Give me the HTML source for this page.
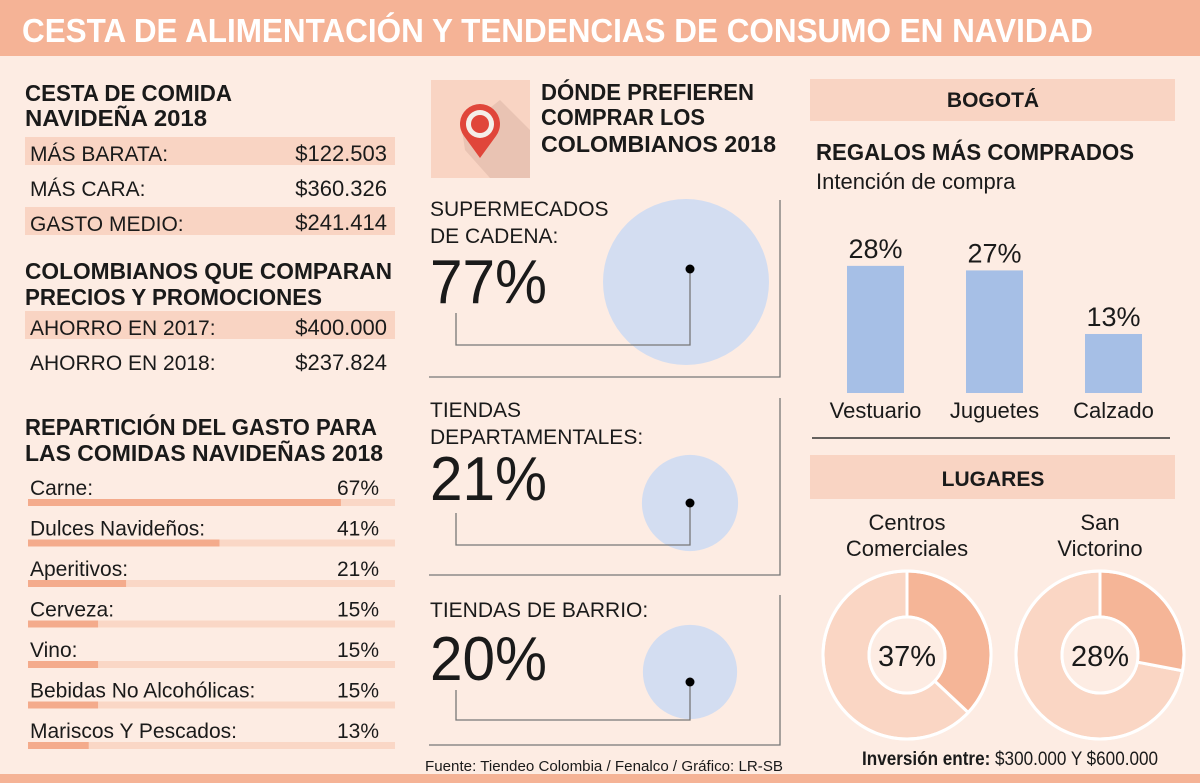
<!DOCTYPE html>
<html><head><meta charset="utf-8">
<style>
html,body{margin:0;padding:0;background:#fdece3;}
svg{display:block;}
text{font-family:"Liberation Sans Narrow","Liberation Sans",sans-serif;fill:#1a1a1a;}
.b{font-weight:bold;}
</style></head>
<body>
<svg id="s" width="1200" height="783" viewBox="0 0 1200 783" xmlns="http://www.w3.org/2000/svg">
<rect x="0" y="0" width="1200" height="783" fill="#fdece3"/>
<rect x="0" y="0" width="1200" height="56" fill="#f5b396"/>
<text x="22" y="42" class="b" font-size="33" style="fill:#fff" textLength="1071" lengthAdjust="spacingAndGlyphs">CESTA DE ALIMENTACIÓN Y TENDENCIAS DE CONSUMO EN NAVIDAD</text>
<rect x="0" y="774" width="1200" height="9" fill="#f5b396"/>

<g>
<text x="25" y="101" class="b" font-size="23" textLength="207" lengthAdjust="spacingAndGlyphs">CESTA DE COMIDA</text>
<text x="25" y="126" class="b" font-size="23" textLength="182" lengthAdjust="spacingAndGlyphs">NAVIDEÑA 2018</text>
<rect x="25" y="137" width="370" height="28" fill="#f9d4c3"/>
<rect x="25" y="207" width="370" height="28" fill="#f9d4c3"/>
<text x="30" y="161" font-size="21">MÁS BARATA:</text><text x="387" y="161" font-size="22" text-anchor="end">$122.503</text>
<text x="30" y="196" font-size="21">MÁS CARA:</text><text x="387" y="196" font-size="22" text-anchor="end">$360.326</text>
<text x="30" y="231" font-size="21">GASTO MEDIO:</text><text x="387" y="230" font-size="22" text-anchor="end">$241.414</text>
</g>
<g>
<text x="25" y="279" class="b" font-size="23" textLength="367" lengthAdjust="spacingAndGlyphs">COLOMBIANOS QUE COMPARAN</text>
<text x="25" y="305" class="b" font-size="23" textLength="297" lengthAdjust="spacingAndGlyphs">PRECIOS Y PROMOCIONES</text>
<rect x="25" y="311" width="370" height="28" fill="#f9d4c3"/>
<text x="30" y="335" font-size="21">AHORRO EN 2017:</text><text x="387" y="335" font-size="22" text-anchor="end">$400.000</text>
<text x="30" y="370" font-size="21">AHORRO EN 2018:</text><text x="387" y="370" font-size="22" text-anchor="end">$237.824</text>
</g>
<text x="25" y="435" class="b" font-size="23" textLength="352" lengthAdjust="spacingAndGlyphs">REPARTICIÓN DEL GASTO PARA</text>
<text x="25" y="461" class="b" font-size="23" textLength="358" lengthAdjust="spacingAndGlyphs">LAS COMIDAS NAVIDEÑAS 2018</text>
<g id="spend"></g>

<rect x="431" y="80" width="99" height="98" fill="#f9d4c3"/>
<g>
<polygon points="462,130 500,100 530,130 530,178 490,178 465,150" fill="#e9c3b3"/>
<path d="M480,158 L464,136 A20,20 0 1 1 496,136 Z" fill="#e0463a"/>
<circle cx="480" cy="124" r="14" fill="#f4efe9"/>
<circle cx="480" cy="124" r="9" fill="#e0463a"/>
</g>
<text x="541" y="100" class="b" font-size="23" textLength="213" lengthAdjust="spacingAndGlyphs">DÓNDE PREFIEREN</text>
<text x="541" y="125" class="b" font-size="23" textLength="164" lengthAdjust="spacingAndGlyphs">COMPRAR LOS</text>
<text x="541" y="152" class="b" font-size="23" textLength="235" lengthAdjust="spacingAndGlyphs">COLOMBIANOS 2018</text>
<g id="where"></g>
<text x="425" y="771" font-size="15" textLength="358" lengthAdjust="spacingAndGlyphs">Fuente: Tiendeo Colombia / Fenalco / Gráfico: LR-SB</text>

<rect x="810" y="79" width="365" height="42" fill="#f9d4c3"/>
<text x="993" y="107" class="b" font-size="21" text-anchor="middle">BOGOTÁ</text>
<text x="816" y="160" class="b" font-size="23" textLength="318" lengthAdjust="spacingAndGlyphs">REGALOS MÁS COMPRADOS</text>
<text x="816" y="189" font-size="22">Intención de compra</text>
<g id="gifts"></g>
<line x1="812" y1="438" x2="1170" y2="438" stroke="#333" stroke-width="1.5"/>
<rect x="810" y="455" width="365" height="44" fill="#f9d4c3"/>
<text x="993" y="486" class="b" font-size="21" text-anchor="middle">LUGARES</text>
<g id="places"></g>
<text x="862" y="765" font-size="19" textLength="296" lengthAdjust="spacingAndGlyphs"><tspan font-weight="bold">Inversión entre:</tspan> $300.000 Y $600.000</text>
</svg>
<script>
const spendCats=["Carne:","Dulces Navideños:","Aperitivos:","Cerveza:","Vino:","Bebidas No Alcohólicas:","Mariscos Y Pescados:"];
const spendVals=[67,41,21,15,15,15,13];
const whereCats=[["SUPERMECADOS","DE CADENA:"],["TIENDAS","DEPARTAMENTALES:"],["TIENDAS DE BARRIO:"]];
const whereVals=[77,21,20];
const giftCats=["Vestuario","Juguetes","Calzado"];
const giftVals=[28,27,13];
const placeCats=[["Centros","Comerciales"],["San","Victorino"]];
const placeVals=[37,28];

const NS="http://www.w3.org/2000/svg";
function mk(tag,attrs,parent,txt){const e=document.createElementNS(NS,tag);for(const k in attrs)e.setAttribute(k,attrs[k]);if(txt!==undefined)e.textContent=txt;parent.appendChild(e);return e;}

const sp=document.getElementById('spend');
const sx=v=>v*4.67;
spendCats.forEach((c,i)=>{
  const y=495+i*40.5;
  const t=mk('text',{x:30,y:y,'font-size':21},sp,c);
  
  
  const p=mk('text',{x:379,y:y,'font-size':21,'text-anchor':'end'},sp,spendVals[i]+'%');
  
  
  const tr=mk('rect',{x:28,y:y+4,width:367,height:7,fill:'#fad7c6'},sp);
  
  
  const b=mk('rect',{x:28,y:y+4,width:sx(spendVals[i]),height:7,fill:'#f4ab8c'},sp);
  
  
});

const wh=document.getElementById('where');
const panels=[{ly:216,py:303,cy:282,dy:269,ly1:313,ly2:345,bT:200,bB:377},
              {ly:417,py:500,cy:503,dy:503,ly1:513,ly2:545,bT:398,bB:575},
              {ly:617,py:680,cy:672,dy:682,ly1:690,ly2:720,bT:595,bB:745}];
const rad=v=>83*Math.pow(v/77,0.42);
whereVals.forEach((v,i)=>{
  const P=panels[i];
  const c=mk('circle',{cx:i==0?686:690,cy:P.cy,r:rad(v),fill:'#d3ddf1'},wh);
  
  
  whereCats[i].forEach((l,j)=>{
    const t=mk('text',{x:430,y:P.ly+j*27,'font-size':21},wh,l);
    
    
  });
  const pt=mk('text',{x:430,y:P.py,'font-size':62,textLength:117,lengthAdjust:'spacingAndGlyphs'},wh,v+'%');
  
  
  const pl=mk('polyline',{points:`456,${P.ly1} 456,${P.ly2} 690,${P.ly2} 690,${P.dy}`,fill:'none',stroke:'#777','stroke-width':1.3},wh);
  
  
  const d=mk('circle',{cx:690,cy:P.dy,r:4.5,fill:'#000'},wh);
  
  
  const br=mk('polyline',{points:`780,${P.bT} 780,${P.bB} 429,${P.bB}`,fill:'none',stroke:'#777','stroke-width':1.3},wh);
  
  
});

const gf=document.getElementById('gifts');
const gBase=393, gy=v=>gBase-v*4.54;
giftCats.forEach((c,i)=>{
  const x=847+i*119;
  const r=mk('rect',{x:x,y:gy(giftVals[i]),width:57,height:gBase-gy(giftVals[i]),fill:'#a6bfe6'},gf);
  
  
  const t=mk('text',{x:x+28.5,y:gy(giftVals[i])-8,'font-size':27,'text-anchor':'middle'},gf,giftVals[i]+'%');
  
  
  const l=mk('text',{x:x+28.5,y:418,'font-size':22,'text-anchor':'middle'},gf,c);
  
  
});

const pg=document.getElementById('places');
const centers=[907,1100], cyD=655, R=84, r0=38;
function arc(cx,cy,a0,a1,Ro,Ri){
  const p=(a,r)=>[cx+r*Math.sin(a),cy-r*Math.cos(a)];
  const lg=(a1-a0)>Math.PI?1:0;
  const [x1,y1]=p(a0,Ro),[x2,y2]=p(a1,Ro),[x3,y3]=p(a1,Ri),[x4,y4]=p(a0,Ri);
  return `M${x1},${y1} A${Ro},${Ro} 0 ${lg} 1 ${x2},${y2} L${x3},${y3} A${Ri},${Ri} 0 ${lg} 0 ${x4},${y4} Z`;
}
placeVals.forEach((v,i)=>{
  const cx=centers[i];
  placeCats[i].forEach((l,j)=>{
    const t=mk('text',{x:cx,y:530+j*26,'font-size':22,'text-anchor':'middle'},pg,l);
    
    
  });
  const a=v/100*2*Math.PI;
  const s2=mk('path',{d:arc(cx,cyD,a,2*Math.PI-0.0001,R,r0),fill:'#fad6c4',stroke:'#fff','stroke-width':3},pg);
  
  
  const s1=mk('path',{d:arc(cx,cyD,0,a,R,r0),fill:'#f5b597',stroke:'#fff','stroke-width':3},pg);
  
  
  const oc=mk('circle',{cx:cx,cy:cyD,r:R,fill:'none',stroke:'#fff','stroke-width':3},pg);
  
  
  const ic=mk('circle',{cx:cx,cy:cyD,r:r0,fill:'#fdece3',stroke:'#fff','stroke-width':3},pg);
  
  
  const t=mk('text',{x:cx,y:cyD+11,'font-size':29,'text-anchor':'middle'},pg,v+'%');
  
  
});
</script>
</body></html>
